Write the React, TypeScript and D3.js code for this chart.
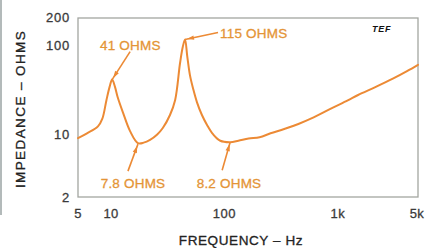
import React from 'react';
import * as d3 from 'd3';

const freqs = [5, 6, 7.5, 8.2, 8.9, 9.5, 10, 10.6, 11.2, 12.5, 14.4, 16.9, 19, 21.6, 25, 28, 32.4, 36, 39.7, 42, 44, 46, 48.6, 52, 56, 62, 69, 78, 90, 110, 130, 160, 200, 250, 330, 440, 600, 870, 1200, 1480, 2100, 3000, 4000, 5000];
const ohms = [9.1, 10.3, 12.3, 15, 24, 34, 41, 34, 26, 17.4, 10.9, 8.0, 8.1, 8.7, 10, 11.8, 16.5, 24.3, 62, 95, 115, 75, 46, 32, 23, 16.5, 12.7, 10, 8.5, 8.2, 8.5, 9.0, 9.3, 10.3, 11.5, 13.1, 15.5, 19.7, 24, 27.6, 33.8, 42, 51, 60];

const xTicks = [5, 10, 100, 1000, 5000];
const xTickLabels = ['5', '10', '100', '1k', '5k'];
const yTicks = [2, 10, 100, 200];
const yTickLabels = ['2', '10', '100', '200'];

// callouts: [freq, ohms, label]
const callouts: [number, number, string][] = [
  [10, 41, '41 OHMS'],
  [44, 115, '115 OHMS'],
  [16.9, 7.8, '7.8 OHMS'],
  [110, 8.2, '8.2 OHMS'],
];

const W = 435, H = 248;
const left = 78, right = 418, top = 18, bottom = 197;

const orange = '#ec8a35';
const textOrange = '#e49436';
const ink = '#3a3a3a';

export default function App() {
  const x = d3.scaleLog().domain([5, 5000]).range([left, right]);
  const y = d3.scaleLog().domain([2, 200]).range([bottom, top]);

  const pts = freqs.map((f, i) => [f, ohms[i]] as [number, number]);
  const line = d3.line<[number, number]>()
    .x(d => x(d[0]))
    .y(d => y(d[1]))
    .curve(d3.curveCatmullRom.alpha(0.5));

  const font = 'Liberation Sans, Arial, sans-serif';

  // leader lines, offsets from the marked point
  const leaders = [
    { dx: 18, dy: -28, tx: 100, ty: 50, anchor: 'start' },
    { dx: 33, dy: -7, tx: 220, ty: 38, anchor: 'start' },
    { dx: -10, dy: 27, tx: 133, ty: 188, anchor: 'middle' },
    { dx: -8, dy: 28, tx: 229, ty: 188, anchor: 'middle' },
  ];

  return (
    <div style={{ position: 'absolute', left: 0, top: 0 }}>
      <svg width={W} height={H} style={{ display: 'block', background: '#fff' }}>
        {/* scan edge */}
        <line x1={1} x2={1} y1={0} y2={215} stroke="#9aa3a3" strokeWidth={1.5} />

        {/* frame */}
        <rect x={left} y={top} width={right - left} height={bottom - top}
          fill="none" stroke="#a3a6a0" strokeWidth={1.3} />

        {/* curve */}
        <path d={line(pts) || ''} fill="none" stroke={orange} strokeWidth={2}
          strokeLinejoin="round" strokeLinecap="round" />

        {/* callouts */}
        {callouts.map((c, i) => {
          const px = x(c[0]), py = y(c[1]);
          const l = leaders[i];
          const ex = px + l.dx, ey = py + l.dy;
          const ux = l.dx / Math.hypot(l.dx, l.dy), uy = l.dy / Math.hypot(l.dx, l.dy);
          return (
            <g key={c[2]}>
              <line x1={px} y1={py} x2={ex} y2={ey} stroke={orange} strokeWidth={1.6} />
              <path d={`M${px + ux * 2},${py + uy * 2} L${px + ux * 9 - uy * 2.2},${py + uy * 9 + ux * 2.2} L${px + ux * 9 + uy * 2.2},${py + uy * 9 - ux * 2.2}Z`}
                fill={orange} />
              <text x={l.tx} y={l.ty} textAnchor={l.anchor} fontFamily={font} fontSize={13.5}
                fill={textOrange} stroke={textOrange} strokeWidth={0.3} letterSpacing={0.2}>{c[2]}</text>
            </g>
          );
        })}

        {/* TEF mark */}
        <text x={372} y={32} fontFamily={font} fontSize={9} fontWeight="bold" fontStyle="italic"
          fill="#111" letterSpacing={0.8}>TEF</text>

        {/* x tick labels */}
        {xTicks.map((t, i) => (
          <text key={t} x={x(t) + (i === 0 ? 0 : -1)} y={218} textAnchor="middle" fontFamily={font}
            fontSize={13} fill={ink} stroke={ink} strokeWidth={0.3} letterSpacing={0.5}>{xTickLabels[i]}</text>
        ))}

        {/* y tick labels */}
        {yTicks.map((t, i) => (
          <text key={t} x={70} y={y(t) + (t === 200 ? 4 : 5)} textAnchor="end" fontFamily={font}
            fontSize={13} fill={ink} stroke={ink} strokeWidth={0.3} letterSpacing={0.8}>{yTickLabels[i]}</text>
        ))}

        {/* axis titles */}
        <text x={241} y={245} textAnchor="middle" fontFamily={font} fontSize={13.5}
          fill="#222" stroke="#222" strokeWidth={0.3} letterSpacing={0.6}>FREQUENCY – Hz</text>
        <text transform="translate(25,109) rotate(-90)" textAnchor="middle" fontFamily={font}
          fontSize={13.5} fill="#222" stroke="#222" strokeWidth={0.3} letterSpacing={1.4}>IMPEDANCE – OHMS</text>
      </svg>
    </div>
  );
}
